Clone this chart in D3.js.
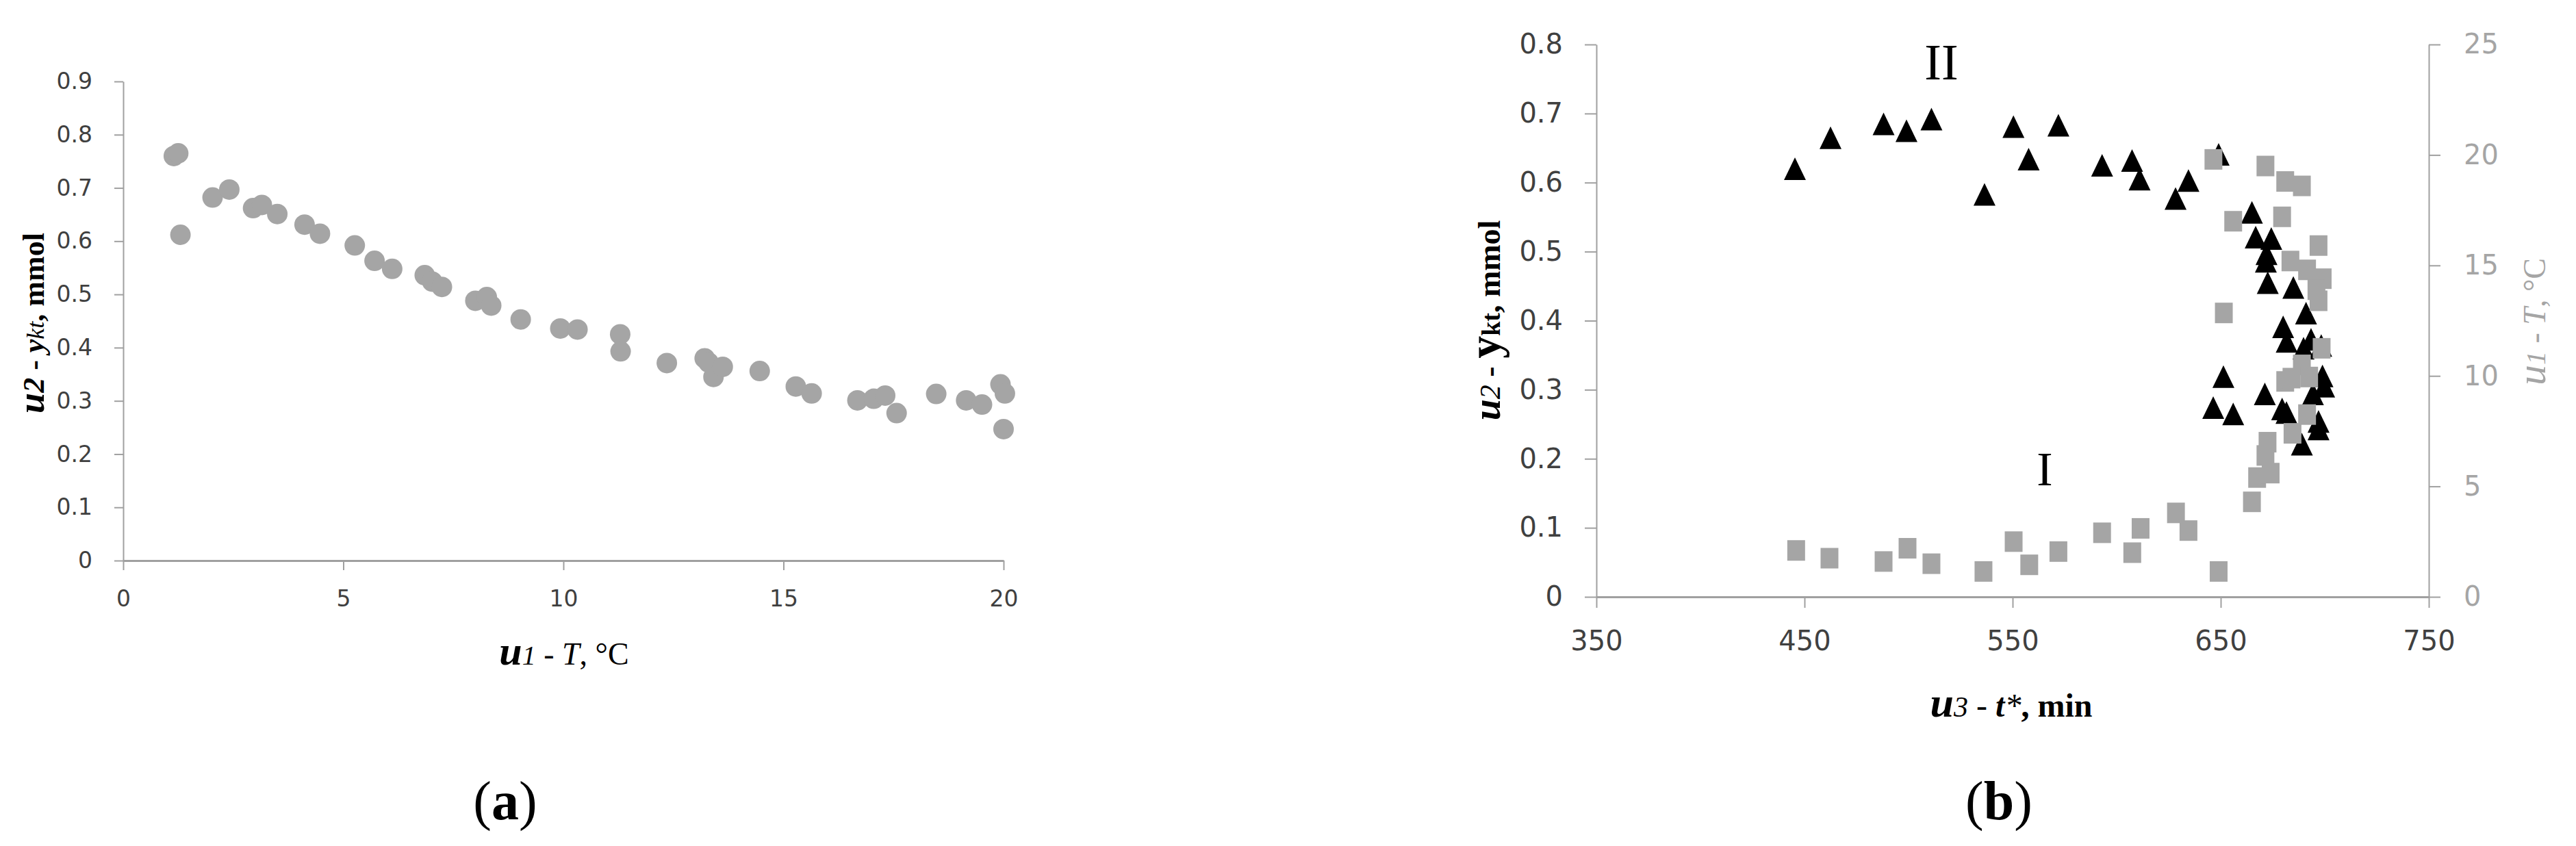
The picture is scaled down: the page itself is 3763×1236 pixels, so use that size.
<!DOCTYPE html>
<html>
<head>
<meta charset="utf-8">
<script src="https://cdn.jsdelivr.net/npm/d3@7"></script>
<style>
  body { margin: 0; background: #fff; }
  .tick text { fill: #404040; font-family: "DejaVu Sans", sans-serif; }
  .serif { font-family: "Liberation Serif", "Times New Roman", serif; }
</style>
</head>
<body>
<div id="chart"></div>
<script>
// chart (a): u1 - T (°C) vs u2 - ykt (mmol)
var aTemp = [1.15, 1.25, 1.3, 2.03, 2.41, 2.95, 3.15, 3.5, 4.12, 4.47, 5.26, 5.71, 6.11, 6.85, 7.02, 7.24,
  8.0, 8.26, 8.36, 9.03, 9.93, 10.32, 11.29, 11.3, 12.35, 13.21, 13.3, 13.41, 13.62, 14.46, 15.28, 15.64,
  16.68, 17.05, 17.31, 17.57, 18.47, 19.15, 19.51, 19.93, 20.03, 20.0];
var aYkt = [0.760, 0.765, 0.612, 0.682, 0.697, 0.662, 0.668, 0.651, 0.631, 0.614, 0.592, 0.563, 0.548, 0.536, 0.524, 0.514,
  0.488, 0.495, 0.479, 0.453, 0.436, 0.434, 0.425, 0.393, 0.371, 0.380, 0.372, 0.345, 0.364, 0.356, 0.327, 0.314,
  0.301, 0.304, 0.310, 0.277, 0.313, 0.301, 0.293, 0.331, 0.314, 0.247];

// chart (b), series II: time vs ykt (left axis)
var bTimeII = [445.4, 462.5, 488, 499, 511, 536.5, 550.4, 557.7, 572, 593, 607.4, 611, 628.3, 634.5, 649,
  665, 666.8, 674.3, 672, 671.7, 672.6, 684.9, 691, 680, 681.7, 689.8, 693.4, 698.3, 698.9, 699.7, 694.3,
  651.3, 671.2, 646.4, 656, 679.5, 681.6, 697, 697, 689];
var bYktII = [0.620, 0.665, 0.685, 0.675, 0.692, 0.583, 0.681, 0.634, 0.683, 0.625, 0.632, 0.605, 0.577, 0.603, 0.641,
  0.557, 0.521, 0.519, 0.497, 0.486, 0.455, 0.448, 0.411, 0.391, 0.370, 0.360, 0.373, 0.364, 0.320, 0.305, 0.294,
  0.319, 0.294, 0.274, 0.265, 0.272, 0.267, 0.254, 0.243, 0.221];

// chart (b), series I: time vs T (right axis)
var bTimeI = [446, 462, 488, 499.5, 511, 536, 550.5, 558, 572, 593, 607.5, 611.5, 628.5, 634.5, 649,
  646.5, 656, 651.5, 665, 667.5, 671.5, 672.5, 674, 671.5, 681, 689, 679.5, 697, 683.5, 691.5, 699,
  696, 697, 698.5, 689, 692.5, 681, 684, 691.5, 684.5];
var bTempI = [2.1, 1.75, 1.6, 2.2, 1.5, 1.15, 2.5, 1.45, 2.05, 2.9, 2.0, 3.1, 3.8, 3.0, 1.15,
  19.8, 17.0, 12.85, 4.3, 5.4, 6.4, 7.0, 5.6, 19.5, 18.8, 18.6, 17.2, 15.9, 15.2, 14.8, 14.4,
  13.9, 13.4, 11.25, 10.5, 9.95, 9.75, 9.9, 8.25, 7.4];

var aXTicks = [0, 5, 10, 15, 20];
var aYTicks = [0, 0.1, 0.2, 0.3, 0.4, 0.5, 0.6, 0.7, 0.8, 0.9];
var bXTicks = [350, 450, 550, 650, 750];
var bYTicks = [0, 0.1, 0.2, 0.3, 0.4, 0.5, 0.6, 0.7, 0.8];
var bRTicks = [0, 5, 10, 15, 20, 25];

var gray = '#a5a5a5';
var axisGray = '#a0a0a0';

var svg = d3.select('#chart')
  .append('svg')
    .attr('width', 3763)
    .attr('height', 1236);

svg.append('rect').attr('width', 3763).attr('height', 1236).attr('fill', '#fff');

function fmt(d) { return d === 0 ? '0' : d3.format('.1f')(d); }

function styleAxis(g, size, width) {
  g.select('.domain').attr('stroke', axisGray).attr('stroke-width', width);
  g.selectAll('.tick line').attr('stroke', axisGray).attr('stroke-width', 2);
  g.selectAll('.tick text').style('font-size', size + 'px');
}

// ---------- chart (a) ----------
var xA = d3.scaleLinear().domain([0, 20]).range([180, 1466]);
var yA = d3.scaleLinear().domain([0, 0.9]).range([819, 119]);

svg.append('g')
  .attr('transform', 'translate(180,0)')
  .call(d3.axisLeft(yA).tickValues(aYTicks).tickFormat(fmt).tickSize(13).tickSizeOuter(0).tickPadding(32))
  .call(styleAxis, 33, 2);

svg.append('g')
  .attr('transform', 'translate(0,819)')
  .call(d3.axisBottom(xA).tickValues(aXTicks).tickSize(14).tickSizeOuter(0).tickPadding(30))
  .call(styleAxis, 33, 3);

svg.append('g').selectAll('circle')
  .data(aTemp)
  .enter()
  .append('circle')
    .attr('cx', function(d) { return xA(d); })
    .attr('cy', function(d, i) { return yA(aYkt[i]); })
    .attr('r', 15)
    .attr('fill', gray);

// ---------- chart (b) ----------
var xB = d3.scaleLinear().domain([350, 750]).range([2332, 3548]);
var yB = d3.scaleLinear().domain([0, 0.8]).range([872, 65]);
var yR = d3.scaleLinear().domain([0, 25]).range([872, 65]);

svg.append('g')
  .attr('transform', 'translate(2332,0)')
  .call(d3.axisLeft(yB).tickValues(bYTicks).tickFormat(fmt).tickSize(17).tickSizeOuter(0).tickPadding(32))
  .call(styleAxis, 40, 2);

svg.append('g')
  .attr('transform', 'translate(3548,0)')
  .call(d3.axisRight(yR).tickValues(bRTicks).tickSize(17).tickSizeOuter(0).tickPadding(34))
  .call(styleAxis, 40, 2)
  .selectAll('.tick text').style('fill', gray);

svg.append('g')
  .attr('transform', 'translate(0,872)')
  .call(d3.axisBottom(xB).tickValues(bXTicks).tickSize(16).tickSizeOuter(0).tickPadding(34))
  .call(styleAxis, 40, 3);

var tri = d3.symbol().type(d3.symbolTriangle).size(480);

svg.append('g').selectAll('path')
  .data(bTimeII)
  .enter()
  .append('path')
    .attr('d', 'M0,-16.5L16,16.5L-16,16.5Z')
    .attr('transform', function(d, i) {
      return 'translate(' + xB(d) + ',' + yB(bYktII[i]) + ')';
    })
    .attr('fill', '#000');

svg.append('g').selectAll('rect')
  .data(bTimeI)
  .enter()
  .append('rect')
    .attr('x', function(d) { return xB(d) - 13; })
    .attr('y', function(d, i) { return yR(bTempI[i]) - 15; })
    .attr('width', 26)
    .attr('height', 30)
    .attr('fill', gray);

// series labels
svg.append('text').attr('class', 'serif')
  .attr('x', 2836).attr('y', 116)
  .attr('text-anchor', 'middle')
  .style('font-size', '74px')
  .text('II');

svg.append('text').attr('class', 'serif')
  .attr('x', 2987).attr('y', 709)
  .attr('text-anchor', 'middle')
  .style('font-size', '70px')
  .text('I');

// ---------- axis titles ----------
function addParts(text, parts) {
  parts.forEach(function(p) {
    text.append('tspan')
      .style('font-style', p.i ? 'italic' : 'normal')
      .style('font-weight', p.b ? 'bold' : 'normal')
      .style('font-size', p.s || null)
      .text(p.t);
  });
}

var t1 = svg.append('text').attr('class', 'serif')
  .attr('x', 824).attr('y', 971)
  .attr('text-anchor', 'middle')
  .style('font-size', '46px');
addParts(t1, [
  { t: 'u', i: true, b: true, s: '60px' }, { t: '1', i: true, s: '40px' },
  { t: ' - ' }, { t: 'T', i: true }, { t: ', °C' }
]);

var t2 = svg.append('text').attr('class', 'serif')
  .attr('transform', 'translate(64,472) rotate(-90)')
  .attr('text-anchor', 'middle')
  .style('font-size', '44px');
addParts(t2, [
  { t: 'u', i: true, b: true, s: '54px' }, { t: '2', i: true, b: true },
  { t: ' - ', b: true }, { t: 'y', i: true, b: true }, { t: 'kt', i: true, s: '36px' },
  { t: ', mmol', b: true }
]);

var t3 = svg.append('text').attr('class', 'serif')
  .attr('x', 2938).attr('y', 1047)
  .attr('text-anchor', 'middle')
  .style('font-size', '48px');
addParts(t3, [
  { t: 'u', i: true, b: true, s: '62px' }, { t: '3', i: true, s: '42px' },
  { t: ' - ' }, { t: 't', i: true, b: true }, { t: '*', i: true }, { t: ', min', b: true }
]);

var t4 = svg.append('text').attr('class', 'serif')
  .attr('transform', 'translate(2191,468) rotate(-90)')
  .attr('text-anchor', 'middle')
  .style('font-size', '46px');
addParts(t4, [
  { t: 'u', i: true, b: true, s: '56px' }, { t: '2', i: true, s: '42px' },
  { t: ' - ', b: true }, { t: 'y', b: true, s: '66px' }, { t: 'kt', b: true, s: '38px' },
  { t: ', mmol', b: true }
]);

var t5 = svg.append('text').attr('class', 'serif')
  .attr('transform', 'translate(3718,470) rotate(-90)')
  .attr('text-anchor', 'middle')
  .attr('fill', gray)
  .style('font-size', '46px');
addParts(t5, [
  { t: 'u', i: true, s: '60px' }, { t: '1', i: true, s: '40px' },
  { t: ' - ' }, { t: 'T', i: true }, { t: ', °C' }
]);

// panel letters
[['a', 738], ['b', 2920]].forEach(function(p) {
  var t = svg.append('text').attr('class', 'serif')
    .attr('x', p[1]).attr('y', 1197)
    .attr('text-anchor', 'middle')
    .style('font-size', '80px');
  addParts(t, [{ t: '(' }, { t: p[0], b: true }, { t: ')' }]);
});
</script>
</body>
</html>
